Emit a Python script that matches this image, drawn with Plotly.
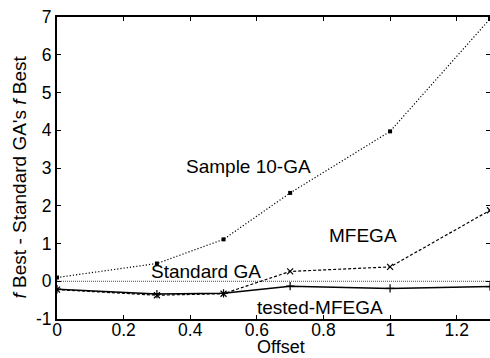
import plotly.graph_objects as go

offsets = [0.0, 0.3, 0.5, 0.7, 1.0, 1.3]
sample10 = [0.1, 0.47, 1.11, 2.34, 3.97, 6.95]
standard = [0.0, 0.0, 0.0, 0.0, 0.0, 0.0]
mfega = [-0.22, -0.37, -0.33, 0.26, 0.38, 1.88]
tested = [-0.21, -0.34, -0.32, -0.13, -0.19, -0.14]

labels = ["Sample 10-GA", "MFEGA", "Standard GA", "tested-MFEGA"]
label_x = [0.574, 0.919, 0.447, 0.79]
label_y = [3.05, 1.22, 0.25, -0.69]

xticks = [0, 0.2, 0.4, 0.6, 0.8, 1, 1.2]
yticks = [-1, 0, 1, 2, 3, 4, 5, 6, 7]

x_title = "Offset"
y_title = "<i>f</i> Best - Standard GA's <i>f</i> Best"

FONT = "Liberation Sans, Arial, Helvetica"

fig = go.Figure()
fig.add_trace(go.Scatter(x=offsets, y=standard, mode="lines",
                         line=dict(color="#444", width=1, dash="1px,1px"), showlegend=False))
fig.add_trace(go.Scatter(x=offsets, y=sample10, mode="lines+markers",
                         line=dict(color="black", width=1.2, dash="1.2px,2px"),
                         marker=dict(symbol="square", size=4, color="black"), showlegend=False))
fig.add_trace(go.Scatter(x=offsets, y=mfega, mode="lines+markers",
                         line=dict(color="black", width=1.2, dash="3px,2px"),
                         marker=dict(symbol="x-thin", size=6, line=dict(color="black", width=1.2)),
                         showlegend=False))
fig.add_trace(go.Scatter(x=offsets, y=tested, mode="lines+markers",
                         line=dict(color="black", width=1.5),
                         marker=dict(symbol="cross-thin", size=6, line=dict(color="black", width=1.2)),
                         showlegend=False))

for t, x, y in zip(labels, label_x, label_y):
    fig.add_annotation(x=x, y=y, text=t, showarrow=False,
                       font=dict(size=19, color="black", family=FONT))

# axis titles as annotations for precise placement
fig.add_annotation(xref="paper", yref="paper", x=0.517, y=-0.129, text=x_title,
                   showarrow=False, xanchor="center", yanchor="bottom", borderpad=0,
                   font=dict(size=18, color="black", family=FONT))
fig.add_annotation(xref="paper", yref="paper", x=-0.0855, y=0.4719, text=y_title,
                   showarrow=False, xanchor="center", yanchor="middle", textangle=-90,
                   font=dict(size=19, color="black", family=FONT))

axis_common = dict(showgrid=False, zeroline=False, showline=True, linecolor="black", linewidth=2,
                   mirror="ticks", ticks="inside", ticklen=4, tickwidth=1.2, tickcolor="black",
                   automargin=False,
                   tickfont=dict(size=17.5, color="black", family=FONT))

fig.update_xaxes(range=[0, 1.3], tickvals=xticks, ticktext=[str(v) for v in xticks],
                 ticklabelstandoff=-6, **axis_common)
fig.update_yaxes(range=[-1, 7], tickvals=yticks, ticktext=[str(v) for v in yticks],
                 **axis_common)

fig.update_layout(width=490, height=358, margin=dict(l=57, r=0, t=17, b=39),
                  plot_bgcolor="white", paper_bgcolor="white",
                  font=dict(family=FONT, color="black"))

fig.write_html("out.html", config={"displayModeBar": False},
               post_script="document.body.style.margin='0';")
